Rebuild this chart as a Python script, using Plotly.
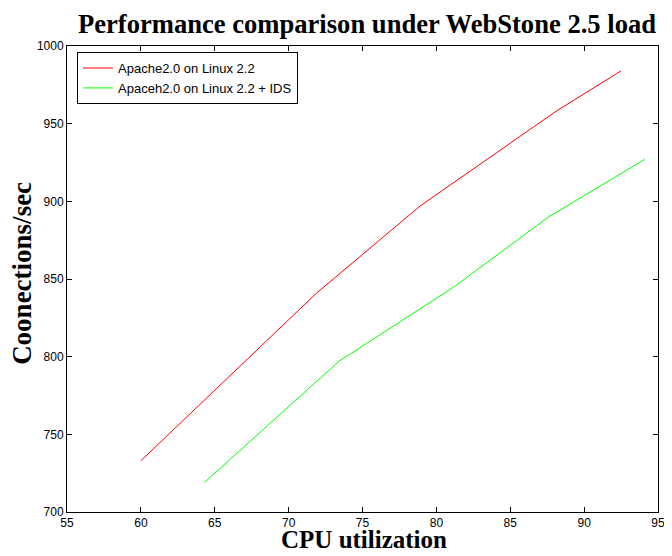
import plotly.graph_objects as go

title = "Performance comparison under WebStone 2.5 load"
x_label = "CPU utilization"
y_label = "Coonections/sec"

series1_name = "Apache2.0 on Linux 2.2"
series1_x = [60.0, 71.9, 78.9, 88.1, 92.5]
series1_y = [733, 841, 897, 958, 984]

series2_name = "Apaceh2.0 on Linux 2.2 + IDS"
series2_x = [64.3, 73.4, 81.2, 87.6, 94.1]
series2_y = [719, 797, 845, 890, 927]

x_ticks = [55, 60, 65, 70, 75, 80, 85, 90, 95]
y_ticks = [700, 750, 800, 850, 900, 950, 1000]

# the page body has an 8px default margin; size the figure so the page fits
# the 672x556 window without scrollbars
W, H = 656, 540
OFF = 8

fig = go.Figure()
fig.add_trace(go.Scatter(x=series1_x, y=series1_y, mode="lines", name=series1_name,
                         line=dict(color="#ff0000", width=1)))
fig.add_trace(go.Scatter(x=series2_x, y=series2_y, mode="lines", name=series2_name,
                         line=dict(color="#00ff00", width=1)))

serif = "Liberation Serif, Times New Roman, serif"
sans = "Liberation Sans, Arial, Helvetica, sans-serif"

axis_common = dict(showgrid=False, zeroline=False, showline=True, linecolor="black",
                   linewidth=1, mirror="ticks", ticks="inside", ticklen=5,
                   tickcolor="black", automargin=False, ticklabeloverflow="allow",
                   tickfont=dict(family=sans, size=12, color="black"))

fig.update_layout(
    width=W, height=H,
    margin=dict(l=67 - OFF, r=6, t=46 - OFF, b=36),
    paper_bgcolor="white", plot_bgcolor="white",
    title=dict(text="<b>" + title + "</b>", x=(367 - OFF) / W, xanchor="center",
               xref="container", yref="container", y=1 - (24 - OFF) / H, yanchor="middle",
               font=dict(family=serif, size=26.6, color="black")),
    xaxis=dict(range=[55, 95], tickvals=x_ticks, **axis_common),
    yaxis=dict(range=[700, 1000], tickvals=y_ticks, **axis_common),
    legend=dict(x=0.017, y=0.987, xanchor="left", yanchor="top",
                bgcolor="white", bordercolor="black", borderwidth=1,
                font=dict(family=sans, size=13, color="black"),
                tracegroupgap=0),
    showlegend=True,
    annotations=[
        dict(text="<b>" + x_label + "</b>", xref="paper", yref="paper",
             x=0.503, y=0, yshift=-27.5, xanchor="center", yanchor="middle",
             showarrow=False, font=dict(family=serif, size=25, color="black")),
        dict(text="<b>" + y_label + "</b>", xref="paper", yref="paper",
             x=0, xshift=-45, y=0.511, xanchor="center", yanchor="middle",
             textangle=-90, showarrow=False,
             font=dict(family=serif, size=27, color="black")),
    ],
)

fig.write_html("out.html")
